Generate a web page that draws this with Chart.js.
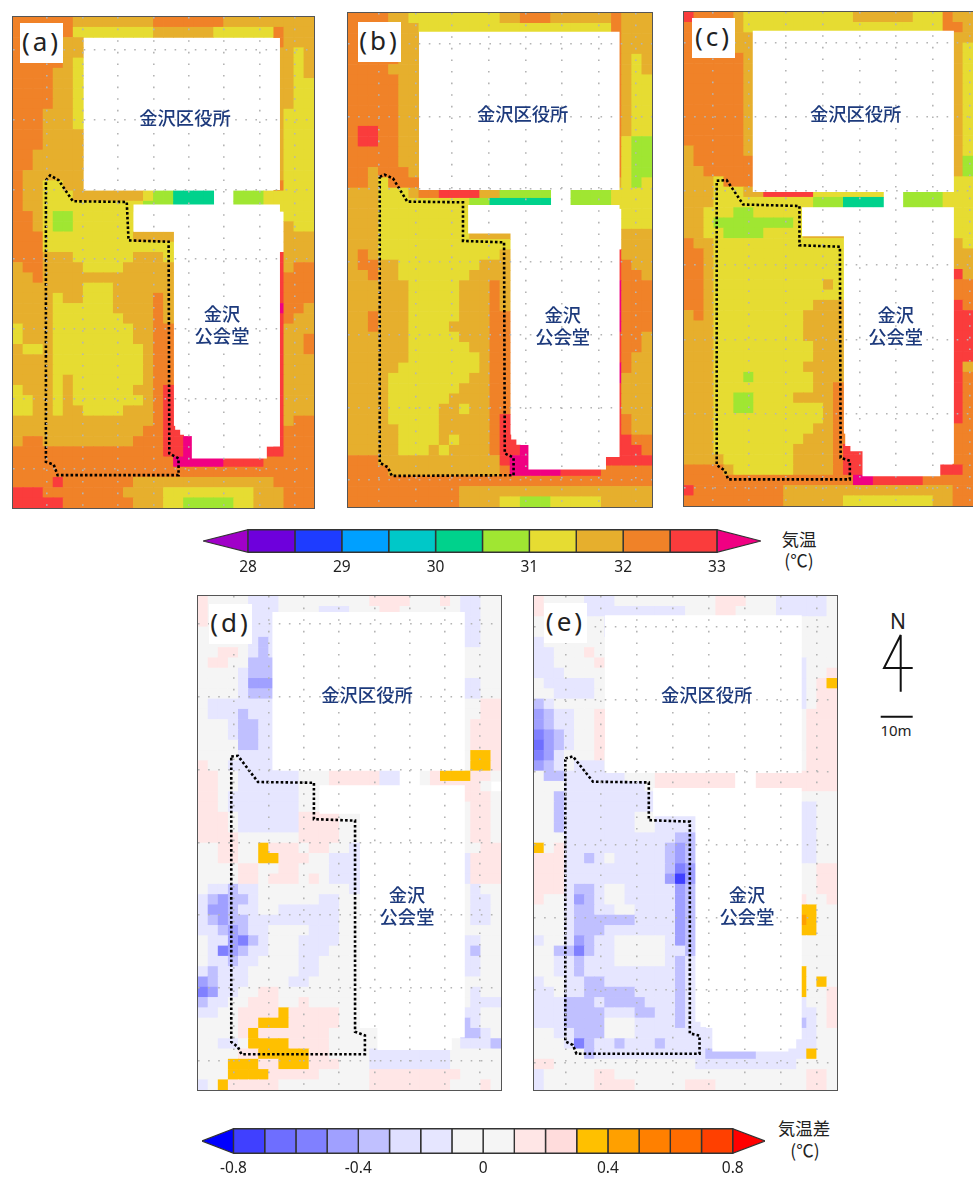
<!DOCTYPE html>
<html lang="ja"><head><meta charset="utf-8">
<script src="https://cdn.jsdelivr.net/npm/chart.js@4"></script>
<style>
html,body{margin:0;padding:0;background:#fff;width:973px;height:1178px;overflow:hidden;font-family:"Noto Sans CJK JP","Noto Sans",sans-serif}
.p{position:absolute;outline:1.5px solid #555;outline-offset:0}
.p canvas{filter:blur(0.5px)}
.c{position:absolute}
canvas{display:block}
.tag{position:absolute;background:#fff;width:43px;height:40px;text-align:center;font:26px/37px "Noto Sans",sans-serif;letter-spacing:3px;color:#222}
.b{position:absolute;transform:translate(-50%,-50%);color:#1d3a7c;font:500 18.3px/1 "Noto Sans CJK JP",sans-serif;white-space:nowrap}
.t{position:absolute;transform:translate(-50%,-50%);color:#222;font:17.5px/1 "Noto Sans CJK JP",sans-serif;white-space:nowrap}
svg{position:absolute;left:0;top:0}
</style></head><body>
<script>
// heat-map classes, one character per cell; rows "left|right", right part aligned to last column
const panelA=[
"OOOOOOGGGGGGGGOOOOOOOGGGGGGGGG","OOOOOOYYYYYYYYGGGGGGYYYYYYOGGG","OOOOOGG|OGGG","OOOOOGG|GGYG","OOOOOGY|GGYG","OOOOGGY|GGYG","OOOOGGY|GGYY","OOOOGGY|GGYY","OOOOGGY|GGYY","OOOGGGY|GYYY","OOOGGGY|GYYY","OOOGGGG|GYYY","OOOGGGG|GYYY","OOGGGGG|GYYY","OOGGGGG|GYYY","OGGGGGG|GYYY","OGGYYGG|OYYY",
"OGGYYYGGGGGGGYLLTTTT..LLLYYYYY","OGGYYYYYYYYYYLLLTTTT..LLLYYYYY","OOGYLLYYYYYY|YYY","OOGYLLYYYYYY|GYY","OOOYYYYYYYYYGGGG|GGG","OOOYYYYYYYYYYYYY|GGG","OOOGGGYYYYYYGGGY|RGGG","GOOGGGGYYYYGGGGG|RGOO","GGOGGGGGGGGGGGGG|ROOO","GGGGGGGYYYGGGGGG|ROOO","GGGGYGGYYYGGGGOG|ROOO","GGGGYYYYYYGGGGOG|MOOG","GGGGYYYYYYYGGGOG|ROGG","YGGGYYYYYYYYGGOO|RGGG","YGGGYYYYYYYYGGOO|RGGO","GYYGYYYYYYYYYGOO|RGGO","GGGGYYYYYYYYYGOO|RGGG","GGGGYYYYYYYYYGOO|RGGG","GGGGYGYYYYYYYGOO|RGGG","YGGGYGYYYYYYGGOR|RGGG","YYGGYGYYYYYYYGOR|RGGG","YYGGYGGYYYYGGGOR|RGGG","GGGGGGGGGGGGGGOR|RGOO","GGGGGGGGGGGGGOORR|ROOO","GOOGGGGGGGGGOOORRM|ROOO","OOOOOOOOOOOOOOORRM|RROOO",
"OOOOOOOOOOOOOOOOMMMMMRRRROOOOO","OOOOOOOOOOOOOOOOOOOOOOOOOOOOOO","OOOOROOOOOOOGGGGGGGGGGGGGGOOOO","RRROOOOOOOOGGGGYYYYYYYYYGGGOOO","RRRRROOOOOOOGGGYYLLLLLYYGGGOOO"];
const panelB=[
"OOOOGGYYYYYYYYYGGOOOGGGGGGOGGG","OOOOOGGYYYYYYYYYYYYYYYYYYYOGGG","OOOOOGG|OGGG","OOOOOGG|OGGG","OOOOOGG|OGYG","OOOOGGG|OGYG","OOOOOGG|OGYY","OOOOOGG|OGYY","OOOOOGG|OGYY","OOOOOGG|OGYY","OOOOOGG|OGYY","ORROOGG|OGYY","ORROOGG|OYLL","OOOOOGG|OYLL","OOOOOGG|OYLL","OOGOOOG|OYLL","OOGYOOO|GYLY",
"GGGYYYGOORRRRGGLLLLL..LLLLYYYY","GGGYYYYYYYYYLLTTTTTT..LLLLYYYY","GGGYYYYYYYYY|YYY","GGGYYYYYYYYY|YYY","GGGYYYYYYYYYGGGG|GGG","GGGYYYYYYYYYYYYY|GGG","GOGYYYYYYYYYYYYG|RGGG","GOOGGYYYYYYYYGGG|ROGG","GGOGGYYYYYYYGGGG|ROOG","GGGGGGYYYYYGGGOG|MOOO","GGGGGGYYYYYGGGOG|MOOO","GGGGGGYYYYYGGGOG|MOOO","GGOGGGYYYYYGGGOO|MOOO","GGOGGGYYYYGGGGOO|MOOO","GGGGGGYYYYYGGGOO|ROOG","GGGGGGYYYYYYGGOO|ROOG","GGGGGGYYYYYYYGOO|ROGG","GGGGGYYYYYYYYGOO|MOGG","GGGGYYYYYYYYGGOO|MGGG","GGGGYYYYYYYGGGOO|RGGG","GGGGYYYYYYGGGGOO|RGGG","GGGGYYYYYGGYGGOO|RGGG","GGGGYYYYYGGGGGOR|ROGG","GGGGGYYYYGGGGGOR|ROGG","GGGGGYYYYGYGGGORR|RROO","GGGGGYYYGYGGGGORRM|RRRO","OOOGGGGGGGGGGGGRMM|RRRRR",
"OOOOGGGGGGGGGGGOMMMMMRRRROOOOO","OOOOOOOOOOOOOOOOOOOOOOOOOOOOOO","OOOOOOOOOOOGGGGGGGGGGGGGGGGGGG","OOOOOOOOOOOGGGGYYLLLYYYYYGGGGG"];
const panelC=[
"ROOOOGYYYYYYYYYYYGGGGGGYYYOGG","OOOOOGYYYYYYYYYYYYYYYYYYYYOOG","OOOOOGG|GG","OOOOOGG|GY","OOOOOOG|GY","OOOOOOG|GY","OOOOOOG|GY","OOOOOOG|GY","OOOOOOG|GY","OOOOOOG|GY","OOOOOOG|GY","OOOOOOG|GY","OOOOOOG|GY","GOOOOOG|GY","GOOOOOO|GL","GGOOOOO|GL","GGGYOOO|YY",
"GGGYYYGGRRRRRYYYYYYY..LLLLYYY","GGGYYYYYYYYYYLLLTTTT..LLLLYYY","GGYYYLLYYYYY|YY","GGYLLLLLLLLY|YY","GGYYLLLLYYYYGGGG|YY","OGGYYYYYYYYYYYYY|GY","OOGYYYYYYYYYYYYY|GG","OOGYYYYYYYYYYYYY|GG","OOGYYYYYYYYYYYYY|RG","OOGYYYYYYYYYYYGY|OO","OOGYYYYYYYYYYYYY|OO","OOGYYYYYYYYYYGGG|RO","GOGYYYYYYYYYGGGG|RR","GGGYYYYYYYYYGGGG|RR","GGGYYYYYYYYYGGGG|RR","GGGYYYYYYYYYYGGG|RR","GGGYYYYYYYYYYGGG|RR","GGGYYYYYYYYYGGGG|RG","GGGYYYLYYYYYYGGG|RO","GGGYYYYYYYYYYGGO|RO","GGGYYLLYYYYGGGGO|RO","GGGYYLLYYYYYYYGO|RO","GGGYYYYYYYYYYYGO|RO","GGGYYYYYYYYYYGGO|OO","GGGYYYYYYYYYGGGOO|OO","GGGYYYYYYYYGGGGORR|OO","GGGGYYYYYYYGGGGORR|OO","OOOOGYYYYYYGGGGORR|RRRO",
"OOOOOOOOOOOOOOOOOMMRRRRROOOOO","ROOOOOOOOOGGGGGGGGGGGGGGGGGOO","OOOOOOOOOOGGGGGGYYYYYYYYYGGOO"];
const panelD=[
"pnnnnaaannnnnnnnnppppnnnpnaann","pnnnnaaannnnaaannnppnnnnnnaann","pnnnnaaa|aann","nnnnnaaa|aann","nnnnnaca|aann","nnppnaca|nnnn","nppnnccc|nnnn","nnnnaccc|nnnn","nnnnaddd|aann","nnnnaccc|aann","naaaaaaa|nnpp","naaacaaa|nnpp","nnnaccaa|nppp","nnnaccaa|nppp","nnnnccaa|nppp","nnnnaaaa|nHHp","pnnaaaaa|nHHp",
"ppnnaaaaaannnpppppaa..npHHHppn","ppnnaaaaaannnpppppaa..npppppn","ppnaaaaaaann|pppn","ppnaaaaaaann|nppn","pppnaaaaaappppnn|nppn","pppnaaaaaappppnn|nppn","ppppnnnnnnppppnn|nppn","nnppnnHpppnppnna|nnpp","nnppnnHHpppnnaaa|appp","nnnnppnnppnnnaaa|appp","nnnnppnpppnpnaaa|appp","naacaannnnnnnnna|nann","acdccannnnnnaann|naan","addcaannaaaaaann|naan","acdccaaaaaaaaann|naan","aacdcaannnnaaann|nnnn","naadecannnaaaann|aann","naedcaannnaaannn|acnn","naacaannnnaannnn|aann","acaaannnnnaannnn|aann","dcaaannnnaannnnn|nnnn","edaannppnnnnnnnn|nann","caannpppnnpnnnnn|naaa","aannppppHpppppnn|aann","nnnnppHHHpppppnn|cann","nnnnpHpppppppnnnnn|ccan","nnaanHHHHppppnnnnn|naaac",
"nnnnppHHHHHppnnnnaaaaaaaannnnn","nnnHHHppHHHpppnnnaaaaaaaannnnn","nnnHHHHpppppnnnnnpppppppppnnnn","anHpppppnnnnnnnnnppppppppnnnpn"];
const panelE=[
"pnnnnaaannnnnnnnnnpppnnnaaaaan","pnnnnaaaaaaaaaannnppnnnnaaaaan","nnnnnnna|nnnn","nnnnnnna|nnnn","annnnnnn|nnnn","aannnpnn|nnnn","aannnnpn|annn","aaannnnn|annp","naaaaann|anpH","nnaaaann|anpp","cannnnnn|anpp","dcaannpp|nppp","dcaannpp|nppp","edcannpp|nppp","fdcannpp|nppp","edannnpn|nppp","dcanaaan|nppp",
"nccaaaaaannnpppppppp..pppppppp","nnnaaaaaaaanpppppppp..pppppppp","nncaaaaaaaaa|nnnn","nncaaaaaaaaa|aann","nncaaaaaaannaaaa|aann","nncaaaaaaannaaaa|aann","nnnaaaaaaaaaaacc|aann","Hnpaaaaaaaaaacdc|aann","pppaacanaaaaacdc|aann","pppaaaaaaaaaaced|nnpp","pppaaaaaaaaaadgd|nnpp","pppaccannaaaaadc|nnpp","pnnadcannaaaaadc|pnnp","nnnaccaannaaaadc|HHnn","nnnaccccccaaaadc|IHnn","nnnacccaaaaaaadc|HHnn","annadcaannnnnadc|nnnn","nnccecaannnnnaac|nnnn","nnaacaaannnnnaca|nnnn","nnaacaaaaaaaaaca|Hnnn","annaaccaaaaaaaca|HnHn","aanaacccccaaaaca|Hnnp","aaacccaccccaaaca|annp","aaaccccaaaccaaca|aanp","aaaccccnnnaaaacaa|canp","nnaacccnnnaaaaaaaa|aann","nnnaecaacaaacaaaaa|aann",
"nnnnncaaaaaaaaaaacccccaaaaaHnn","ppnnnnnnnnnnnnnnaaaaaaaaaannnn","annnnnppnnnnnnnnnnnnnnnnnnnppn","annnnnppppnnnnnpppnnnnnnnnnppn"];

// colour-bar edges, colours and ticks
const tempEdges=[28,28.5,29,29.5,30,30.5,31,31.5,32,32.5,33];
const tempColors=["#6e00dc","#1e3cff","#00a0ff","#00c8c8","#00d28c","#a0e632","#e6dc32","#e6af2d","#f08228","#fa3c3c"];
const tempLow="#a000c8", tempHigh="#f00082";
const tempTicks=[28,29,30,31,32,33];
const diffEdges=[-0.8,-0.7,-0.6,-0.5,-0.4,-0.3,-0.2,-0.1,0,0.1,0.2,0.3,0.4,0.5,0.6,0.7,0.8];
const diffColors=["#4040ff","#6e6eff","#8080ff","#a0a0ff","#c0c0ff","#e0e0ff","#e6e6ff","#f5f5f5","#f5f5f5","#ffe6e6","#ffdcdc","#ffc000","#ffa000","#ff8000","#ff6c00","#ff4000"];
const diffLow="#0000ff", diffHigh="#ff0000";
const diffTicks=[-0.8,-0.4,0,0.4,0.8];
// representative value of each map class
const tempClass={T:30.25,L:30.75,Y:31.25,G:31.75,O:32.25,R:32.75,M:33.25};
const diffClass={g:-0.75,f:-0.65,e:-0.55,d:-0.45,c:-0.35,b:-0.25,a:-0.15,n:0,p:0.15,q:0.25,H:0.35,I:0.45};

// site geometry in map units
const gridX=[0,1,2,3,4,5,6,7], gridY=[0,1,2,3,4,5,6];
const office=[[1.1,-0.165],[6.57,-0.165],[6.57,2.01],[1.1,2.01]];
const passage=[[4.72,2.0],[5.19,2.0],[5.19,2.22],[4.72,2.22]];
const hall=[[2.44,2.216],[6.57,2.216],[6.57,5.68],[6.2,5.68],[6.2,5.85],[4.085,5.85],[4.085,5.51],[3.756,5.51],[3.756,5.44],[3.615,5.44],[3.615,2.607],[2.44,2.607]];
const siteA=[[-0.03,1.87],[0.09,1.8],[0.33,1.87],[0.73,2.17],[2.25,2.18],[2.3,2.73],[3.43,2.75],[3.45,5.78],[3.71,5.85],[3.71,6.09],[0.3,6.09],[0.19,5.94],[-0.03,5.9]];
const siteB=[[0.03,1.83],[0.16,1.8],[0.39,1.85],[0.78,2.17],[2.3,2.18],[2.3,2.71],[3.42,2.73],[3.44,5.63],[3.68,5.69],[3.68,5.93],[0.36,5.94],[0.25,5.82],[0.03,5.76]];
const siteC=[[0.12,1.86],[0.39,1.85],[0.84,2.18],[2.37,2.2],[2.37,2.73],[3.47,2.75],[3.49,5.6],[3.74,5.64],[3.74,5.89],[0.43,5.89],[0.34,5.77],[0.12,5.7]];
const siteD=[[-0.07,1.82],[0.12,1.81],[0.69,2.17],[2.28,2.18],[2.28,2.68],[3.45,2.7],[3.45,5.6],[3.73,5.65],[3.73,5.91],[0.22,5.91],[0.12,5.81],[-0.07,5.74]];
const siteE=[[0,1.81],[0.21,1.78],[0.77,2.13],[2.32,2.14],[2.32,2.66],[3.46,2.68],[3.46,5.6],[3.73,5.63],[3.73,5.88],[0.31,5.88],[0.21,5.76],[0,5.71]];

const officeName="金沢区役所", hallName=["金沢","公会堂"];

const panels=[
 {tag:"(a)",rows:panelA,cols:30,cls:tempClass,edges:tempEdges,colors:tempColors,lo:tempLow,hi:tempHigh,site:siteA,box:[13,17,301,491],x:[-0.958,7.53],y:[-0.467,6.56],tagAt:[20,23],off:[185,117],hal:[222,313,335]},
 {tag:"(b)",rows:panelB,cols:30,cls:tempClass,edges:tempEdges,colors:tempColors,lo:tempLow,hi:tempHigh,site:siteB,box:[348,13,304,494],x:[-0.836,7.455],y:[-0.422,6.367],tagAt:[358,22],off:[522.7,113],hal:[562.7,314,336]},
 {tag:"(c)",rows:panelC,cols:29,cls:tempClass,edges:tempEdges,colors:tempColors,lo:tempLow,hi:tempHigh,site:siteC,box:[684,12,289,494],x:[-0.77,7.09],y:[-0.419,6.25],tagAt:[692,18],off:[855.7,113],hal:[895.7,314,336]},
 {tag:"(d)",rows:panelD,cols:30,cls:diffClass,edges:diffEdges,colors:diffColors,lo:diffLow,hi:diffHigh,site:siteD,box:[198,596,303,494],x:[-1.016,7.6],y:[-0.385,6.4],tagAt:[209,604],off:[367,694],hal:[407,894,916]},
 {tag:"(e)",rows:panelE,cols:30,cls:diffClass,edges:diffEdges,colors:diffColors,lo:diffLow,hi:diffHigh,site:siteE,box:[534,596,303,494],x:[-0.87,7.55],y:[-0.43,6.38],tagAt:[544,603],off:[706.7,694],hal:[747,894,916]}
];

function el(cls,css,txt,parent){const d=document.createElement('div');d.className=cls;Object.assign(d.style,css);if(txt!=null)d.textContent=txt;(parent||document.body).appendChild(d);return d;}
function colorOf(v,p){const e=p.edges;if(v<e[0])return p.lo;if(v>=e[e.length-1])return p.hi;for(let i=0;i<e.length-1;i++)if(v>=e[i]&&v<e[i+1])return p.colors[i];return p.hi;}
function poly(a,close){const o=a.map(q=>({x:q[0],y:q[1]}));if(close)o.push({x:a[0][0],y:a[0][1]});return o;}
function mkCanvas(wrap,w,h){const c=document.createElement('canvas');c.width=w;c.height=h;c.style.width=w+'px';c.style.height=h+'px';wrap.appendChild(c);return c;}

panels.forEach(p=>{
  const [l,t,w,h]=p.box, R=p.rows.length;
  const wrap=el('p',{left:l+'px',top:t+'px',width:w+'px',height:h+'px'});
  const cv=mkCanvas(wrap,w,h);
  const pts=[],cols=[];
  const put=(ch,c,r)=>{if(!(ch in p.cls))return;const v=p.cls[ch];
    pts.push({x:p.x[0]+(c+.5)*(p.x[1]-p.x[0])/p.cols,y:p.y[0]+(r+.5)*(p.y[1]-p.y[0])/R,v});cols.push(colorOf(v,p));};
  p.rows.forEach((row,r)=>{const [L,Rt]=row.split('|');
    [...L].forEach((ch,c)=>put(ch,c,r));
    if(Rt)[...Rt].forEach((ch,i)=>put(ch,p.cols-Rt.length+i,r));});
  const side=Math.max(w/p.cols,h/R)+0.6;
  const white=(a,o)=>({type:'scatter',data:poly(a,true),showLine:true,fill:'shape',backgroundColor:'#fff',borderWidth:0,borderColor:'#fff',pointRadius:0,tension:0,order:o});
  new Chart(cv,{type:'scatter',data:{datasets:[
    {data:poly(p.site,true),showLine:true,fill:false,borderColor:'#000',borderWidth:2.6,borderDash:[2.6,2.2],pointRadius:0,tension:0,order:0},
    white(office,1),white(passage,1),white(hall,1),
    {data:pts,pointStyle:'rect',pointRadius:side/Math.SQRT2,pointHoverRadius:side/Math.SQRT2,pointBorderWidth:0,pointBackgroundColor:cols,backgroundColor:cols,showLine:false,order:2}
  ]},options:{responsive:false,animation:false,events:[],layout:{padding:0,autoPadding:false},
    plugins:{legend:{display:false},tooltip:{enabled:false}},
    scales:{
      x:{type:'linear',min:p.x[0],max:p.x[1],afterBuildTicks:s=>{s.ticks=gridX.map(v=>({value:v}));},ticks:{display:false},grid:{color:'#b4b4b4',lineWidth:1.6,z:1,drawTicks:false},border:{display:false,dash:[1.6,10]}},
      y:{type:'linear',reverse:true,min:p.y[0],max:p.y[1],afterBuildTicks:s=>{s.ticks=gridY.map(v=>({value:v}));},ticks:{display:false},grid:{color:'#b4b4b4',lineWidth:1.6,z:1,drawTicks:false},border:{display:false,dash:[1.6,8.5]}}
    }}});
  el('tag',{left:p.tagAt[0]+'px',top:p.tagAt[1]+'px'},p.tag);
  el('b',{left:p.off[0]+'px',top:p.off[1]+'px'},officeName);
  el('b',{left:p.hal[0]+'px',top:p.hal[1]+'px'},hallName[0]);
  el('b',{left:p.hal[0]+'px',top:p.hal[2]+'px'},hallName[1]);
});

function colorbar(box,range,edges,colors,lo,hi,ticks,fmt){
  const [l,t,w,h]=box;
  const wrap=el('c',{left:l+'px',top:t+'px',width:w+'px',height:h+'px'});
  const cv=mkCanvas(wrap,w,h);
  const n=edges.length-1;
  const ds=edges.slice(0,n).map((e,i)=>({data:[{x:e,y:0},{x:edges[i+1],y:0},{x:edges[i+1],y:1},{x:e,y:1},{x:e,y:0}],showLine:true,fill:'shape',backgroundColor:colors[i],borderColor:'#333',borderWidth:1.4,pointRadius:0,tension:0}));
  const tri=(tip,base,c)=>({data:[{x:tip,y:.5},{x:base,y:0},{x:base,y:1},{x:tip,y:.5}],showLine:true,fill:'shape',backgroundColor:c,borderColor:'#333',borderWidth:1.2,pointRadius:0,tension:0});
  ds.push(tri(range[0],edges[0],lo),tri(range[1],edges[n],hi));
  new Chart(cv,{type:'scatter',data:{datasets:ds},options:{responsive:false,animation:false,events:[],layout:{padding:0,autoPadding:false},
    plugins:{legend:{display:false},tooltip:{enabled:false}},
    scales:{
      x:{type:'linear',min:range[0],max:range[1],afterBuildTicks:s=>{s.ticks=ticks.map(v=>({value:v}));},grid:{display:false,drawTicks:false},border:{display:false},
         ticks:{autoSkip:false,maxRotation:0,padding:5,color:'#222',font:{family:'"Noto Sans",sans-serif',size:15.5},callback:v=>fmt(v)}},
      y:{type:'linear',min:-0.03,max:1.03,display:false}
    }}});
}
colorbar([203,529,558,48],[27.52,33.47],tempEdges,tempColors,tempLow,tempHigh,tempTicks,v=>String(v));
colorbar([202,1128,563,52],[-0.901,0.9035],diffEdges,diffColors,diffLow,diffHigh,diffTicks,v=>String(v));

el('t',{left:'799px',top:'539px'},"気温");
el('t',{left:'799px',top:'560px'},"(℃)");
el('t',{left:'804px',top:'1128px'},"気温差");
el('t',{left:'805px',top:'1150px'},"(℃)");
el('t',{left:'898px',top:'621px',font:'21px/1 "Noto Sans",sans-serif'},"N");
el('t',{left:'896px',top:'730px',font:'15px/1 "Noto Sans",sans-serif'},"10m");
document.body.insertAdjacentHTML('beforeend','<svg width="973" height="1178" style="pointer-events:none"><path d="M912.7 668H884L900.7 635V691.7" fill="none" stroke="#111" stroke-width="2"/><path d="M880.7 716.7H912.7" stroke="#111" stroke-width="2"/></svg>');
</script>
</body></html>
